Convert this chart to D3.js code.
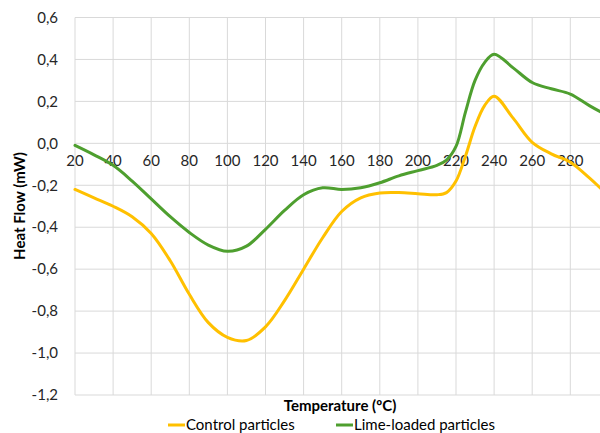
<!DOCTYPE html>
<html><head><meta charset="utf-8">
<script src="https://cdn.jsdelivr.net/npm/d3@7"></script>
<style>body{margin:0;background:#fff}svg{display:block}text{font-family:Lato,"Open Sans",sans-serif;fill:#262626}</style>
</head><body><svg id="c" width="600" height="433"></svg>
<script>
const temps = [20,30,40,50,60,70,80,90,100,110,120,130,140,150,160,170,180,190,200,210,215,220,225,230,235,240,250,260,270,280,290,300];
const control = [-0.22,-0.26,-0.30,-0.35,-0.43,-0.56,-0.72,-0.855,-0.925,-0.94,-0.875,-0.75,-0.60,-0.45,-0.325,-0.26,-0.237,-0.235,-0.24,-0.245,-0.235,-0.18,-0.06,0.08,0.18,0.225,0.12,0.005,-0.05,-0.09,-0.165,-0.25];
const lime = [-0.01,-0.055,-0.105,-0.18,-0.265,-0.35,-0.425,-0.485,-0.515,-0.49,-0.41,-0.32,-0.245,-0.212,-0.22,-0.212,-0.188,-0.155,-0.13,-0.105,-0.08,-0.015,0.15,0.30,0.385,0.425,0.36,0.29,0.26,0.235,0.18,0.13];
const xTicks = [20,40,60,80,100,120,140,160,180,200,220,240,260,280,300];
const yTicks = [-1.2,-1.0,-0.8,-0.6,-0.4,-0.2,0.0,0.2,0.4,0.6];
const seriesNames = ["Control particles","Lime-loaded particles"];
const colors = ["#FFC000","#4E9F2F"];

const svg = d3.select("#c");
const x = d3.scaleLinear().domain([20,300]).range([75,608.4]);
const y = d3.scaleLinear().domain([-1.2,0.6]).range([395,17.5]);
const fmt = v => d3.format(".1f")(v).replace(".",",").replace("−","-");

const g = svg.append("g");
g.selectAll(".hg").data(yTicks).join("line")
  .attr("x1",75).attr("x2",608.4).attr("y1",d=>y(d)).attr("y2",d=>y(d))
  .attr("stroke","#d9d9d9").attr("stroke-width",1);
g.selectAll(".vg").data(xTicks).join("line")
  .attr("x1",d=>x(d)).attr("x2",d=>x(d)).attr("y1",y(0.6)).attr("y2",y(-1.2))
  .attr("stroke","#d9d9d9").attr("stroke-width",1);

svg.selectAll(".yl").data(yTicks).join("text")
  .attr("x",58).attr("y",d=>y(d)).attr("dy","0.35em").attr("text-anchor","end")
  .attr("font-size",15).text(d=>fmt(d));
svg.selectAll(".xl").data(xTicks.filter(t=>t<300)).join("text")
  .attr("x",d=>x(d)).attr("y",y(0)+23).attr("text-anchor","middle")
  .attr("font-size",15).text(d=>d);

const series = [control, lime];
const line = d3.line().x((d,i)=>x(temps[i])).y(d=>y(d)).curve(d3.curveCatmullRom.alpha(0.5));
series.forEach((s,k)=>{
  svg.append("path").datum(s).attr("d",line).attr("fill","none")
    .attr("stroke",colors[k]).attr("stroke-width",3).attr("stroke-linejoin","round").attr("stroke-linecap","round");
});

svg.append("text").attr("x",340).attr("y",411).attr("text-anchor","middle")
  .attr("font-size",15).attr("font-weight","bold").style("fill","#000").text("Temperature (ºC)");
svg.append("text").attr("transform","translate(25,206) rotate(-90)").attr("text-anchor","middle")
  .attr("font-size",15).attr("font-weight","bold").style("fill","#000").text("Heat Flow (mW)");

const leg = [{x:168,name:seriesNames[0],c:colors[0]},{x:336,name:seriesNames[1],c:colors[1]}];
leg.forEach(l=>{
  svg.append("line").attr("x1",l.x).attr("x2",l.x+17).attr("y1",425).attr("y2",425).attr("stroke",l.c).attr("stroke-width",3);
  svg.append("text").attr("x",l.x+18).attr("y",430).attr("font-size",15).style("fill","#000").text(l.name);
});
</script></body></html>
